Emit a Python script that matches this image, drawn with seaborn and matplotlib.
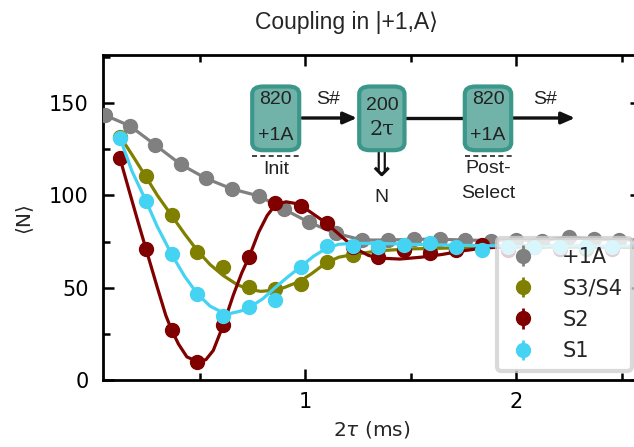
import numpy as np
import pandas as pd
import matplotlib
matplotlib.use("Agg")
import matplotlib.pyplot as plt
import seaborn as sns
from matplotlib.patches import FancyBboxPatch, FancyArrowPatch
from matplotlib.lines import Line2D
from matplotlib.ticker import MultipleLocator

# ---------------- data ----------------
x_ref = [0.05, 0.17, 0.29, 0.41, 0.53, 0.655, 0.78, 0.90, 1.02, 1.145, 1.27,
         1.395, 1.515, 1.64, 1.76, 1.88, 2.0, 2.125, 2.25, 2.37, 2.49, 2.615]
y_ref = [143.5, 137.6, 127.3, 116.8, 109.2, 103.4, 99.7, 92.5, 85.3, 79.5, 75.8,
         75.8, 76.2, 76.2, 75.8, 75.5, 75.8, 75.5, 77.3, 76.2, 75.8, 76.0]

x_s = [0.123, 0.246, 0.368, 0.49, 0.613, 0.736, 0.858, 0.981, 1.103, 1.226,
       1.348, 1.471, 1.594, 1.716, 1.84, 1.962, 2.085, 2.208, 2.33, 2.453]
y_s1 = [130.9, 97.0, 68.3, 46.6, 34.7, 39.4, 43.3, 61.0, 72.6, 72.6,
        72.2, 73.1, 74.0, 72.2, 70.4, 72.2, 72.0, 72.2, 72.2, 72.2]
y_s2 = [120.1, 70.8, 27.1, 9.9, 29.8, 66.5, 96.1, 94.3, 84.9, 72.0,
        66.8, 70.4, 68.6, 70.4, 73.1, 70.4, 72.0, 71.0, 72.0, 71.0]
y_s34 = [131.8, 110.5, 89.4, 69.2, 61.4, 50.6, 49.1, 52.0, 63.7, 67.7,
         71.0, 71.0, 71.5, 71.0, 71.5, 72.0, 73.0, 72.0, 71.0, 72.0]
err_ref = [1.5] * len(x_ref)
err_s = [1.5] * len(x_s)

# fitted curves
fit_s2_x = [0.123, 0.17, 0.21, 0.246, 0.30, 0.34, 0.368, 0.40, 0.44, 0.49, 0.53,
            0.565, 0.613, 0.66, 0.70, 0.736, 0.78, 0.82, 0.86, 0.91, 0.96, 1.0,
            1.05, 1.10, 1.15, 1.20, 1.25, 1.30, 1.35, 1.45, 1.55, 1.65, 1.75,
            1.85, 2.0, 2.2, 2.6]
fit_s2_y = [120, 101, 85, 71, 50, 35, 27, 19.5, 12.5, 10, 11,
            16, 30, 46, 58, 67, 80, 89, 95, 96.5, 95.5, 93,
            89, 85, 80, 75, 70.5, 67.5, 66, 65.5, 66.5, 68, 70,
            71.5, 72.5, 72.5, 72]
fit_s34_x = [0.123, 0.18, 0.246, 0.30, 0.368, 0.43, 0.49, 0.55, 0.613, 0.68,
             0.74, 0.79, 0.84, 0.90, 0.976, 1.03, 1.10, 1.16, 1.23, 1.35,
             1.5, 1.7, 2.0, 2.6]
fit_s34_y = [132, 122, 110, 100, 89, 79, 70, 62.5, 56.5, 51.5,
             49, 48, 48.5, 50, 53.5, 57.5, 63.5, 66.5, 68, 70,
             71, 71.5, 72, 72]
fit_s1_x = [0.123, 0.18, 0.246, 0.30, 0.368, 0.43, 0.49, 0.55, 0.613, 0.645,
            0.70, 0.739, 0.80, 0.858, 0.92, 0.981, 1.04, 1.103, 1.16, 1.226,
            1.35, 1.5, 1.7, 2.0, 2.6]
fit_s1_y = [131, 113, 97, 83, 68, 56, 46.6, 40, 36.3, 36,
            37.5, 39.5, 44, 50, 56, 61.5, 67, 71.5, 73.5, 74,
            74, 73.5, 73, 72.5, 72.5]

labels = ["+1A", "S3/S4", "S2", "S1"]
colors = ["#808080", "#808000", "#800000", "#45d3f3"]

# ---------------- figure ----------------
sns.set_style("ticks")
plt.rcParams["font.family"] = ["DejaVu Sans"]
W, H = 634, 447
fig = plt.figure(figsize=(W / 100, H / 100), dpi=100)
ax = fig.add_axes([102.7 / W, 1 - 380 / H, (641 - 102.7) / W, (380 - 55) / H])

lw = 2.3
ms = 10
# +1A
sns.lineplot(x=x_ref, y=y_ref, ax=ax, color=colors[0], lw=lw, zorder=2)
ax.errorbar(x_ref, y_ref, yerr=err_ref, fmt="o", color=colors[0], ms=ms,
            elinewidth=2, capsize=0, label=labels[0], zorder=3)
# S3/S4
sns.lineplot(x=fit_s34_x, y=fit_s34_y, ax=ax, color=colors[1], lw=lw, zorder=4)
ax.errorbar(x_s, y_s34, yerr=err_s, fmt="o", color=colors[1], ms=ms,
            elinewidth=2, capsize=0, label=labels[1], zorder=5)
# S2
sns.lineplot(x=fit_s2_x, y=fit_s2_y, ax=ax, color=colors[2], lw=lw, zorder=6)
ax.errorbar(x_s, y_s2, yerr=err_s, fmt="o", color=colors[2], ms=ms,
            elinewidth=2, capsize=0, label=labels[2], zorder=7)
# S1
sns.lineplot(x=fit_s1_x, y=fit_s1_y, ax=ax, color=colors[3], lw=lw, zorder=8)
ax.errorbar(x_s, y_s1, yerr=err_s, fmt="o", color=colors[3], ms=ms,
            elinewidth=2, capsize=0, label=labels[3], zorder=9)

ax.set_xlim(0.041, 2.592)
ax.set_ylim(0, 176)
ax.xaxis.set_major_locator(MultipleLocator(1))
ax.xaxis.set_minor_locator(MultipleLocator(0.5))
ax.yaxis.set_major_locator(MultipleLocator(50))
ax.yaxis.set_minor_locator(MultipleLocator(25))
ax.tick_params(which="both", direction="in", top=True, right=True, width=1.8,
               labelsize=15, colors="black")
ax.tick_params(axis="y", pad=10)
ax.tick_params(axis="x", pad=9)
ax.tick_params(which="major", length=8)
ax.tick_params(which="minor", length=5)
for s in ax.spines.values():
    s.set_linewidth(2.0)
    s.set_color("black")
ax.set_xlabel("2$\\tau$ (ms)", fontsize=14.5, labelpad=5)
ax.set_ylabel("⟨N⟩", fontsize=14.5, labelpad=12)

leg = ax.legend(loc="lower right", fontsize=15, frameon=True, framealpha=0.8,
                edgecolor="#d0d0d0", handletextpad=1.1, borderpad=0.45,
                labelspacing=0.55, borderaxespad=0.45, handlelength=1.6)
leg.get_frame().set_linewidth(3)
leg.set_zorder(20)

# title
fig.text(346 / W, 1 - 22 / H, "Coupling in |+1,A⟩", ha="center", va="center",
         fontsize=16.5, family=["Liberation Sans", "DejaVu Sans"])

# ---------------- schematic ----------------
def P(px, py):
    return (px / W, 1 - py / H)

teal_fill = "#72b3a9"
teal_edge = "#3c978b"
txtc = "#222222"
sans = ["Liberation Sans", "DejaVu Sans"]
boxes = [(250.7, 85, 50, 66.7, "820", "+1A"),
         (357.7, 85, 48.3, 66.7, "200", "2\u03c4"),
         (463.3, 85, 49.4, 66.7, "820", "+1A")]
for (bx, by, bw, bh, t1, t2) in boxes:
    x0, y0 = P(bx + 1.5, by + bh - 1.5)
    p = FancyBboxPatch((x0, y0), (bw - 3) / W, (bh - 3) / H,
                       boxstyle="round,pad=0,rounding_size=0.017",
                       transform=fig.transFigure, facecolor=teal_fill,
                       edgecolor=teal_edge, lw=3, zorder=30)
    fig.patches.append(p)
    cx = bx + bw / 2
    if t1 == "200":
        fig.text(*P(cx, by + 20), t1, ha="center", va="center", fontsize=14,
                 color=txtc, family=sans, zorder=31)
        fig.text(*P(cx, by + 44), t2, ha="center", va="center", fontsize=15,
                 color=txtc, family=["DejaVu Serif"], zorder=31)
    else:
        fig.text(*P(cx, by + 15), t1, ha="center", va="center", fontsize=14,
                 color=txtc, family=sans, zorder=31)
        fig.text(*P(cx, by + 50), t2, ha="center", va="center", fontsize=14,
                 color=txtc, family=sans, zorder=31)

arrow_kw = dict(arrowstyle="-|>,head_length=0.8,head_width=0.35", color="#111111",
                lw=2.4, mutation_scale=10, shrinkA=0, shrinkB=0)
fig.patches.append(FancyArrowPatch(P(302, 118), P(357, 118),
                                   transform=fig.transFigure, zorder=29, **arrow_kw))
fig.lines.append(Line2D([P(406, 118)[0], P(463.3, 118)[0]],
                        [P(406, 118)[1], P(463.3, 118)[1]],
                        transform=fig.transFigure, color="#111111", lw=2.4, zorder=29))
fig.patches.append(FancyArrowPatch(P(512.7, 118), P(575, 118),
                                   transform=fig.transFigure, zorder=29, **arrow_kw))

fig.text(*P(328, 100), "S#", ha="center", va="center", fontsize=14, color=txtc, family=sans)
fig.text(*P(545, 100), "S#", ha="center", va="center", fontsize=14, color=txtc, family=sans)

for (a, b) in [(252, 300), (465, 512)]:
    fig.lines.append(Line2D([a / W, b / W], [1 - 156 / H, 1 - 156 / H],
                            transform=fig.transFigure, color="#222222", lw=1.2,
                            ls=(0, (3, 2))))
fig.text(*P(276, 170), "Init", ha="center", va="center", fontsize=14, color=txtc, family=sans)
fig.text(*P(488, 169), "Post-", ha="center", va="center", fontsize=14, color=txtc, family=sans)
fig.text(*P(488, 193), "Select", ha="center", va="center", fontsize=14, color=txtc, family=sans)
fig.text(*P(381, 166), "\u21d3", ha="center", va="center", fontsize=27, color="#111111",
         family=["DejaVu Sans"])
fig.text(*P(381, 197), "N", ha="center", va="center", fontsize=14, color=txtc, family=sans)

fig.savefig("out.png", dpi=100)
